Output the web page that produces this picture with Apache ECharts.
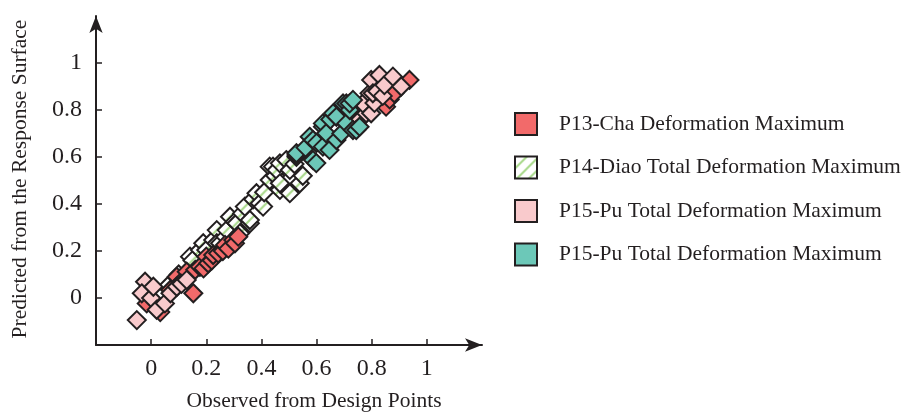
<!DOCTYPE html>
<html><head><meta charset="utf-8">
<script src="https://cdn.jsdelivr.net/npm/echarts@6/dist/echarts.min.js"></script>
<style>html,body{margin:0;padding:0;background:#fff}#c{width:907px;height:415px}</style>
</head><body><div id="c"></div>
<script>
const seriesNames = ['P13-Cha Deformation Maximum','P14-Diao Total Deformation Maximum','P15-Pu Total Deformation Maximum','P15-Pu Total Deformation Maximum '];
const xTicks = [0,0.2,0.4,0.6,0.8,1];
const yTicks = [0,0.2,0.4,0.6,0.8,1];
const xTitle = 'Observed from Design Points';
const yTitle = 'Predicted from the Response Surface';

const p13 = [[-0.016,-0.023],[0.033,-0.06],[0.069,0.034],[0.093,0.09],[0.11,0.07],[0.129,0.112],[0.153,0.02],[0.16,0.12],[0.177,0.133],[0.19,0.126],[0.2,0.176],[0.207,0.148],[0.22,0.16],[0.225,0.183],[0.243,0.19],[0.26,0.2],[0.268,0.226],[0.28,0.21],[0.298,0.247],[0.304,0.233],[0.316,0.261],[0.852,0.814],[0.865,0.845],[0.882,0.871],[0.937,0.928]];
const p14 = [[0.06,0.05],[0.1,0.1],[0.141,0.176],[0.15,0.16],[0.177,0.204],[0.189,0.233],[0.2,0.204],[0.225,0.247],[0.238,0.289],[0.238,0.233],[0.25,0.233],[0.27,0.26],[0.274,0.289],[0.286,0.346],[0.304,0.325],[0.31,0.318],[0.322,0.275],[0.33,0.36],[0.34,0.389],[0.358,0.318],[0.358,0.332],[0.37,0.42],[0.382,0.446],[0.394,0.403],[0.406,0.389],[0.41,0.45],[0.43,0.502],[0.43,0.559],[0.442,0.559],[0.45,0.52],[0.455,0.545],[0.467,0.46],[0.467,0.488],[0.467,0.573],[0.49,0.587],[0.503,0.545],[0.503,0.446],[0.52,0.57],[0.527,0.601],[0.539,0.488],[0.55,0.52]];
const p15a = [[-0.052,-0.094],[-0.022,0.069],[-0.034,0.02],[0.0,0.0],[0.008,0.048],[0.02,-0.05],[0.05,-0.023],[0.07,0.02],[0.093,0.048],[0.11,0.06],[0.129,0.077],[0.756,0.757],[0.78,0.786],[0.768,0.828],[0.792,0.871],[0.798,0.786],[0.81,0.83],[0.798,0.928],[0.804,0.871],[0.82,0.88],[0.84,0.86],[0.828,0.949],[0.846,0.906],[0.877,0.942],[0.907,0.9]];
const p15b = [[0.527,0.609],[0.527,0.616],[0.56,0.64],[0.575,0.686],[0.587,0.672],[0.587,0.587],[0.599,0.574],[0.6,0.66],[0.623,0.729],[0.623,0.743],[0.623,0.644],[0.635,0.701],[0.647,0.63],[0.65,0.76],[0.66,0.786],[0.672,0.672],[0.672,0.771],[0.69,0.7],[0.696,0.828],[0.708,0.743],[0.708,0.828],[0.72,0.8],[0.72,0.828],[0.732,0.843],[0.732,0.715],[0.744,0.715],[0.756,0.729]];

const FONT = '"Liberation Serif","Times New Roman",serif';
const INK = '#231F20';
const SYM = 18;

function hatch(){
  const c = document.createElement('canvas'); c.width = 12; c.height = 12;
  const g = c.getContext('2d');
  g.fillStyle = '#fff'; g.fillRect(0,0,12,12);
  g.strokeStyle = '#A8D98A'; g.lineWidth = 2;
  g.beginPath(); g.moveTo(-2,14); g.lineTo(14,-2); g.stroke();
  g.beginPath(); g.moveTo(-2,2); g.lineTo(2,-2); g.stroke();
  g.beginPath(); g.moveTo(10,14); g.lineTo(14,10); g.stroke();
  return c;
}
const hatchCanvas = hatch();
const s = 2/SYM;
const colors = ['#F26A6A', {image: hatchCanvas, repeat:'repeat', scaleX:s, scaleY:s}, '#F9CACC', '#6CC8B8'];
const legendColors = ['#F26A6A', {image: hatchCanvas, repeat:'repeat'}, '#F9CACC', '#6CC8B8'];
const zOrder = [3, 2, 4, 5];
const datas = [p13, p14, p15a, p15b];

const chart = echarts.init(document.getElementById('c'), null, {renderer:'canvas'});
const axisCommon = {
  type:'value', min:-0.2, max:1.2, interval:0.2,
  axisLine:{show:true, onZero:false, lineStyle:{color:INK, width:2}, symbol:['none','arrow'], symbolSize:[10,17]},
  axisTick:{show:true, inside:true, length:6, lineStyle:{color:INK, width:1.5}},
  splitLine:{show:false},
  axisLabel:{fontFamily:FONT, fontSize:24, color:INK,
    formatter: v => String(Math.round(v*10)/10)}
};
chart.setOption({
  animation:false,
  grid:{left:96, top:16, width:386, height:329},
  xAxis: Object.assign({}, axisCommon, {
    axisTick: Object.assign({}, axisCommon.axisTick, {customValues: xTicks}),
    axisLabel: Object.assign({}, axisCommon.axisLabel, {customValues: xTicks, margin:12})
  }),
  yAxis: Object.assign({}, axisCommon, {
    axisTick: Object.assign({}, axisCommon.axisTick, {customValues: yTicks}),
    axisLabel: Object.assign({}, axisCommon.axisLabel, {customValues: yTicks, margin:14})
  }),
  legend:{
    orient:'vertical', left:514, top:112, padding:0, itemWidth:22, itemHeight:22, itemGap:19.5,
    icon:'rect', symbolRotate:0, selectedMode:false,
    formatter: n => n.trim(),
    textStyle:{fontFamily:FONT, fontSize:21.5, color:INK, padding:[0,0,0,17]},
    data: seriesNames.map((n,i)=>({name:n, itemStyle:{color:legendColors[i], borderColor:INK, borderWidth:2}}))
  },
  graphic:[
    {type:'text', position:[314,401], style:{text:xTitle, font:'21.5px '+FONT, fill:INK, textAlign:'center', textVerticalAlign:'middle'}},
    {type:'text', rotation:Math.PI/2, position:[20,179], style:{text:yTitle, font:'21.5px '+FONT, fill:INK, textAlign:'center', textVerticalAlign:'middle'}}
  ],
  series: datas.map((d,i)=>({
    type:'scatter', name:seriesNames[i], data:d, z:zOrder[i],
    symbol:'diamond', symbolSize:SYM,
    itemStyle:{color:colors[i], borderColor:INK, borderWidth:2, opacity:1},
    emphasis:{disabled:true}
  }))
});
</script></body></html>
